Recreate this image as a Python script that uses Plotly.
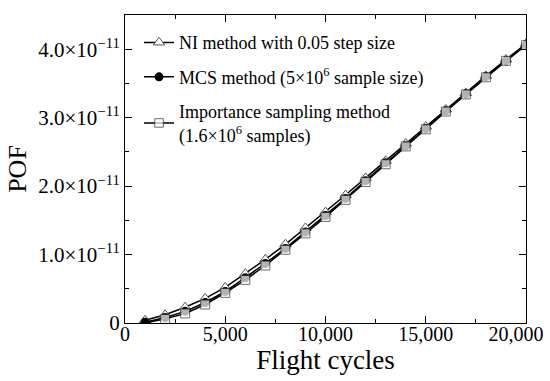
import plotly.graph_objects as go

cycles = [1000, 2000, 3000, 4000, 5000, 6000, 7000, 8000, 9000, 10000,
          11000, 12000, 13000, 14000, 15000, 16000, 17000, 18000, 19000, 20000]
ni_pof = [0.04, 0.12, 0.23, 0.36, 0.52, 0.72, 0.93, 1.15, 1.39, 1.62,
          1.87, 2.12, 2.37, 2.62, 2.87, 3.12, 3.36, 3.61, 3.85, 4.08]
mcs_pof = [0.01, 0.08, 0.17, 0.30, 0.46, 0.66, 0.87, 1.09, 1.33, 1.57,
           1.82, 2.08, 2.34, 2.59, 2.84, 3.10, 3.35, 3.60, 3.83, 4.06]
is_pof = [0.00, 0.06, 0.14, 0.27, 0.44, 0.63, 0.84, 1.07, 1.31, 1.55,
          1.80, 2.06, 2.32, 2.58, 2.83, 3.09, 3.34, 3.59, 3.83, 4.06]
scale = 1e-11

y_tickvals = [0, 1e-11, 2e-11, 3e-11, 4e-11]
y_ticktext = ["0", "1.0×10<sup>−11</sup>", "2.0×10<sup>−11</sup>",
              "3.0×10<sup>−11</sup>", "4.0×10<sup>−11</sup>"]
x_tickvals = [0, 5000, 10000, 15000, 20000]
x_ticktext = ["0", "5,000", "10,000", "15,000", "20,000&nbsp;&nbsp;&nbsp;&nbsp;"]

FONT = "Liberation Serif, Times New Roman, serif"

fig = go.Figure()
fig.add_trace(go.Scatter(
    x=cycles, y=[v * scale for v in ni_pof], mode="lines+markers",
    name="NI method with 0.05 step size", legendgroup="a",
    line=dict(color="black", width=1.5),
    marker=dict(symbol="triangle-up", size=10, color="white",
                line=dict(color="#555", width=1))))
fig.add_trace(go.Scatter(
    x=cycles, y=[v * scale for v in mcs_pof], mode="lines+markers",
    name="MCS method (5×10<sup>6</sup> sample size)", legendgroup="b",
    line=dict(color="black", width=1.5),
    marker=dict(symbol="circle", size=9, color="black")))
fig.add_trace(go.Scatter(
    x=cycles, y=[v * scale for v in is_pof], mode="lines+markers",
    name="Importance sampling method<br>(1.6×10<sup>6</sup> samples)", legendgroup="c",
    line=dict(color="black", width=1.5),
    marker=dict(symbol="square", size=[0] + [9] * (len(cycles) - 1), color="white",
                line=dict(color="#333", width=1))))

axis_common = dict(
    showline=True, linecolor="black", linewidth=1, mirror="ticks",
    ticks="inside", ticklen=7, tickcolor="black", showgrid=False, zeroline=False,
    automargin=False,
)

fig.update_xaxes(
    range=[0, 20000], tickvals=x_tickvals, ticktext=x_ticktext,
    tickfont=dict(family=FONT, size=20, color="black"), ticklabeloverflow="allow",
    ticklabelstandoff=-7,
    minor=dict(ticks="inside", ticklen=4, tickvals=[2500, 7500, 12500, 17500], tickcolor="black"),
    title=dict(text="Flight cycles", font=dict(family=FONT, size=27, color="black"), standoff=0),
    **axis_common)
fig.update_yaxes(
    range=[0, 4.5e-11], tickvals=y_tickvals, ticktext=y_ticktext,
    tickfont=dict(family=FONT, size=21, color="black"),
    minor=dict(ticks="inside", ticklen=4, tickvals=[0.5e-11, 1.5e-11, 2.5e-11, 3.5e-11], tickcolor="black"),
    title=dict(text="POF", font=dict(family=FONT, size=26, color="black"), standoff=4),
    **axis_common)

fig.update_layout(
    width=550, height=381,
    margin=dict(l=125, r=24, t=15, b=58),
    paper_bgcolor="white", plot_bgcolor="white",
    font=dict(family=FONT, color="black"),
    legend=dict(x=0.035, y=0.97, xanchor="left", yanchor="top",
                bgcolor="rgba(0,0,0,0)", font=dict(family=FONT, size=18, color="black"),
                tracegroupgap=8, itemwidth=30),
)

fig.write_html("out.html", config={"displayModeBar": False},
               post_script="document.body.style.margin='0';")
